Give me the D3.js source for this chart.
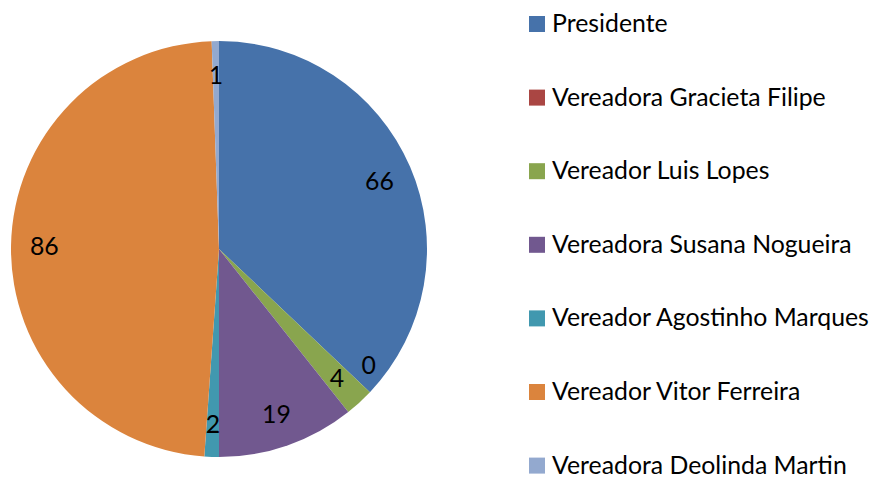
<!DOCTYPE html>
<html><head><meta charset="utf-8">
<script src="https://cdn.jsdelivr.net/npm/d3@7"></script>
<style>html,body{margin:0;padding:0;background:#fff;}svg{display:block;}</style>
</head><body>
<svg id="c" width="872" height="478"></svg>
<script>
const categories = ["Presidente","Vereadora Gracieta Filipe","Vereador Luis Lopes","Vereadora Susana Nogueira","Vereador Agostinho Marques","Vereador Vitor Ferreira","Vereadora Deolinda Martin"];
const values = [66, 0, 4, 19, 2, 86, 1];
const colors = ["#4672AA","#AA4643","#89A54E","#71588F","#4198AF","#DB843D","#93A9CF"];

const svg = d3.select("#c");
const font = "Lato, 'Open Sans', sans-serif";
const cx = 219, cy = 249, R = 208;
const data = categories.map((c,i)=>({name:c, value:values[i], color:colors[i]}));
const pie = d3.pie().sort(null).value(d=>d.value);
const arcs = pie(data);
const arc = d3.arc().innerRadius(0).outerRadius(R);
const g = svg.append("g").attr("transform",`translate(${cx},${cy})`);
g.selectAll("path").data(arcs).join("path").attr("d",arc).attr("fill",d=>d.data.color);

const lr = R*0.84;
function lpos(d){let a=(d.startAngle+d.endAngle)/2; let r=lr; if(d.data.value===0){a-=0.1; r=R*0.91;} return [r*Math.sin(a), -r*Math.cos(a)];}
g.selectAll("text").data(arcs).join("text")
  .attr("x",d=>lpos(d)[0])
  .attr("y",d=>lpos(d)[1])
  .attr("text-anchor","middle").attr("dominant-baseline","central")
  .attr("font-family",font).attr("font-size",21).attr("fill","#000")
  .text(d=>d.data.value);

const lg = svg.append("g");
const rows = lg.selectAll("g").data(data).join("g")
  .attr("transform",(d,i)=>`translate(529,${32 + i*73.6})`);
rows.append("rect").attr("x",0).attr("y",-16).attr("width",16).attr("height",16).attr("fill",d=>d.color);
rows.append("text").attr("x",23).attr("y",0).attr("font-family",font).attr("font-size",22).attr("fill","#000").text(d=>d.name);
const texts = rows.selectAll("text").nodes();
const maxW = d3.max(texts, t=>t.getComputedTextLength());
const fs = 22*317/maxW;
rows.selectAll("text").attr("font-size",fs);
g.selectAll("text").attr("font-size",fs);
</script>
</body></html>
